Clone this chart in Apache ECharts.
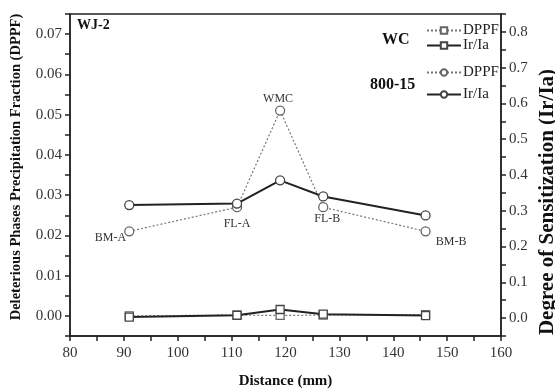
<!DOCTYPE html>
<html>
<head>
<meta charset="utf-8">
<script src="https://cdn.jsdelivr.net/npm/echarts@6/dist/echarts.min.js"></script>
<style>
  html, body { margin: 0; padding: 0; background: #fff; }
  #chart { width: 555px; height: 390px; }
</style>
</head>
<body>
<div id="chart"></div>
<script>
// distance positions (mm)
const distance = [91, 111, 119, 127, 146];
const pointNames = ['BM-A', 'FL-A', 'WMC', 'FL-B', 'BM-B'];
// WC sample
const wcDppf = [0.0000, 0.0002, 0.0001, 0.0002, 0.0003];
const wcIrIa = [0.003, 0.008, 0.024, 0.011, 0.007];
// 800-15 sample
const s800Dppf = [0.021, 0.027, 0.051, 0.027, 0.021];
const s800IrIa = [0.316, 0.320, 0.385, 0.340, 0.287];

const labelPos = ['left', 'bottom', 'top', 'bottom', 'right'];
const labelOffset = [[7, 6], [0, 0], [-2, 4], [4, -5], [0, 10]];

const serif = 'Liberation Serif';
const pairs = arr => arr.map((v, i) => [distance[i], v]);

const chart = echarts.init(document.getElementById('chart'));

const solid = { color: '#222', width: 2 };
const dotted = { color: '#777', width: 1.2, type: [2, 2] };
const hollow = c => ({ color: '#fff', borderColor: c, borderWidth: 1.3 });
const tickStyle = { color: '#222', width: 1.5 };

function legendAt(name, top) {
  return {
    data: [name],
    left: 421,
    top: top,
    itemWidth: 34,
    itemHeight: 8,
    itemGap: 4,
    formatter: n => n.split(' ').pop(),
    textStyle: { fontFamily: serif, fontSize: 15, color: '#222', padding: [0, 0, 0, -3] }
  };
}

const titleText = (text, left, top, size) => ({
  text, left, top,
  textStyle: { fontFamily: serif, fontSize: size, fontWeight: 'bold', color: '#111' }
});

chart.setOption({
  animation: false,
  title: [
    titleText('WJ-2', 72, 13, 14),
    titleText('WC', 377, 27, 16),
    titleText('800-15', 365, 72, 16)
  ],
  legend: [
    legendAt('WC DPPF', 18),
    legendAt('WC Ir/Ia', 33),
    legendAt('800-15 DPPF', 60),
    legendAt('800-15 Ir/Ia', 82)
  ],
  // right axis title, sits lower than the axis middle and runs off the edge
  graphic: [{
    type: 'text', x: 548, y: 202, rotation: Math.PI / 2,
    style: {
      text: 'Degree of Sensitization (Ir/Ia)',
      fontFamily: serif, fontSize: 21, fontWeight: 'bold', fill: '#111',
      align: 'center', verticalAlign: 'middle'
    }
  }],
  grid: {
    left: 70, right: 54, top: 14, bottom: 54,
    outerBoundsMode: 'none', containLabel: false,
    show: true, borderColor: '#222', borderWidth: 1.5
  },
  xAxis: {
    type: 'value', min: 80, max: 160, interval: 5,
    name: 'Distance (mm)', nameLocation: 'middle', nameGap: 38,
    nameTextStyle: { fontFamily: serif, fontSize: 15, fontWeight: 'bold', color: '#111' },
    axisLine: { onZero: false, lineStyle: { color: '#222', width: 1.5 } },
    axisTick: { length: 5, lineStyle: tickStyle },
    splitLine: { show: false },
    axisLabel: {
      fontFamily: serif, fontSize: 15, color: '#333', margin: 10,
      formatter: v => (Math.round(v) % 10 === 0 ? String(Math.round(v)) : '')
    }
  },
  yAxis: [
    {
      type: 'value', min: -0.005, max: 0.075, interval: 0.005,
      name: 'Deleterious Phases Precipitation Fraction (DPPF)',
      nameLocation: 'middle', nameRotate: 90, nameGap: 46,
      nameTextStyle: { fontFamily: serif, fontSize: 14.5, fontWeight: 'bold', color: '#111', padding: [0, 0, 0, 16] },
      axisLine: { show: true, onZero: false, lineStyle: { color: '#222', width: 1.5 } },
      axisTick: { length: 5, lineStyle: tickStyle },
      splitLine: { show: false },
      axisLabel: {
        fontFamily: serif, fontSize: 15, color: '#333', margin: 8,
        formatter: v => {
          const k = Math.round(v * 1000);
          return (k >= 0 && k <= 70 && k % 10 === 0) ? (k / 1000).toFixed(2) : '';
        }
      }
    },
    {
      type: 'value', min: -0.05, max: 0.85, interval: 0.05,
      position: 'right',
      axisLine: { show: true, onZero: false, lineStyle: { color: '#222', width: 1.5 } },
      axisTick: { length: 5, lineStyle: tickStyle },
      splitLine: { show: false },
      axisLabel: {
        fontFamily: serif, fontSize: 15, color: '#333', margin: 8,
        formatter: v => {
          const k = Math.round(v * 100);
          return (k >= 0 && k <= 80 && k % 10 === 0) ? (k / 100).toFixed(1) : '';
        }
      }
    }
  ],
  series: [
    {
      name: 'WC DPPF', type: 'line', yAxisIndex: 0,
      data: pairs(wcDppf),
      symbol: 'rect', symbolSize: 8,
      lineStyle: dotted, itemStyle: hollow('#666'), z: 2
    },
    {
      name: 'WC Ir/Ia', type: 'line', yAxisIndex: 1,
      data: pairs(wcIrIa),
      symbol: 'rect', symbolSize: 8,
      lineStyle: solid, itemStyle: hollow('#444'), z: 3
    },
    {
      name: '800-15 DPPF', type: 'line', yAxisIndex: 0,
      data: pairs(s800Dppf).map((p, i) => ({
        value: p,
        label: {
          show: true, formatter: pointNames[i], position: labelPos[i],
          offset: labelOffset[i], distance: 5,
          fontFamily: serif, fontSize: 12, color: '#333'
        }
      })),
      symbol: 'circle', symbolSize: 9,
      lineStyle: dotted, itemStyle: hollow('#666'), z: 2
    },
    {
      name: '800-15 Ir/Ia', type: 'line', yAxisIndex: 1,
      data: pairs(s800IrIa),
      symbol: 'circle', symbolSize: 9,
      lineStyle: solid, itemStyle: hollow('#444'), z: 3
    }
  ]
});
</script>
</body>
</html>
